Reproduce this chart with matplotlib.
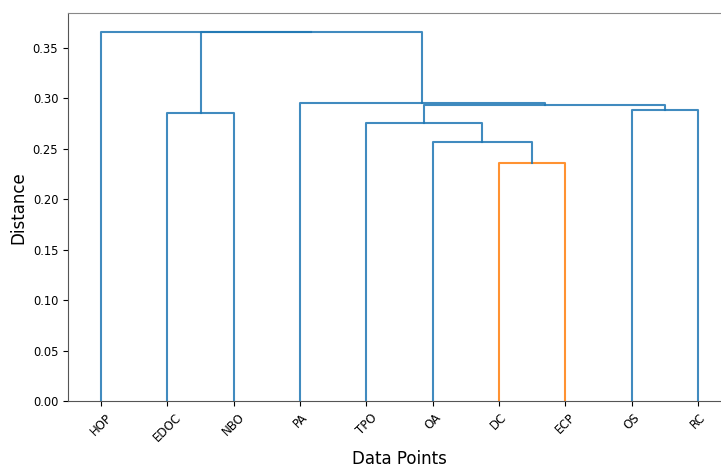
"""
Dendrogram of the ten attributes, drawn by hand from the merge list.
"""

import numpy as np
import matplotlib.pyplot as plt

# leaves in display order
leaf_labels = ['HOP', 'EDOC', 'NBO', 'PA', 'TPO', 'OA', 'DC', 'ECP', 'OS', 'RC']

# merges in linkage style: new cluster id = 10 + row index
merge_left = [6, 5, 4, 1, 8, 12, 3, 13, 0]
merge_right = [7, 10, 11, 2, 9, 14, 15, 16, 17]
merge_height = [0.2363, 0.2564, 0.2752, 0.2855, 0.2885, 0.2931, 0.2951, 0.3652, 0.3659]

n = len(leaf_labels)
color_threshold = 0.7 * max(merge_height)

# x position and height of every node (leaves first, then merged clusters)
node_x = [5 + 10 * i for i in range(n)]
node_h = [0.0] * n
for a, b, h in zip(merge_left, merge_right, merge_height):
    node_x.append((node_x[a] + node_x[b]) / 2)
    node_h.append(h)

fig = plt.figure(figsize=(7.21, 4.70), dpi=100)
# axes runs a little past the right edge of the canvas
ax = fig.add_axes([68 / 721, 68.7 / 470, 663 / 721, 388 / 470])

for a, b, h in zip(merge_left, merge_right, merge_height):
    color = 'C1' if h < color_threshold else 'C0'
    xs = [node_x[a], node_x[a], node_x[b], node_x[b]]
    ys = [node_h[a], h, h, node_h[b]]
    ax.plot(xs, ys, color=color, linewidth=1.5, alpha=0.85)

ax.set_xlim(0, 10 * n)
ax.set_ylim(0, 1.05 * max(merge_height))
ax.spines['right'].set_visible(False)
ax.spines['top'].set_color('#888888')
ax.spines['left'].set_color('#555555')
ax.spines['bottom'].set_color('#555555')
ax.set_xticks(node_x[:n])
ax.set_xticklabels(leaf_labels, rotation=45, fontsize=8.5)
ax.set_yticks(np.arange(0, 0.36, 0.05))
ax.tick_params(axis='y', labelsize=8.3)
ax.set_xlabel('Data Points', fontsize=12)
ax.set_ylabel('Distance', fontsize=12)

plt.savefig('out.png', dpi=100)
